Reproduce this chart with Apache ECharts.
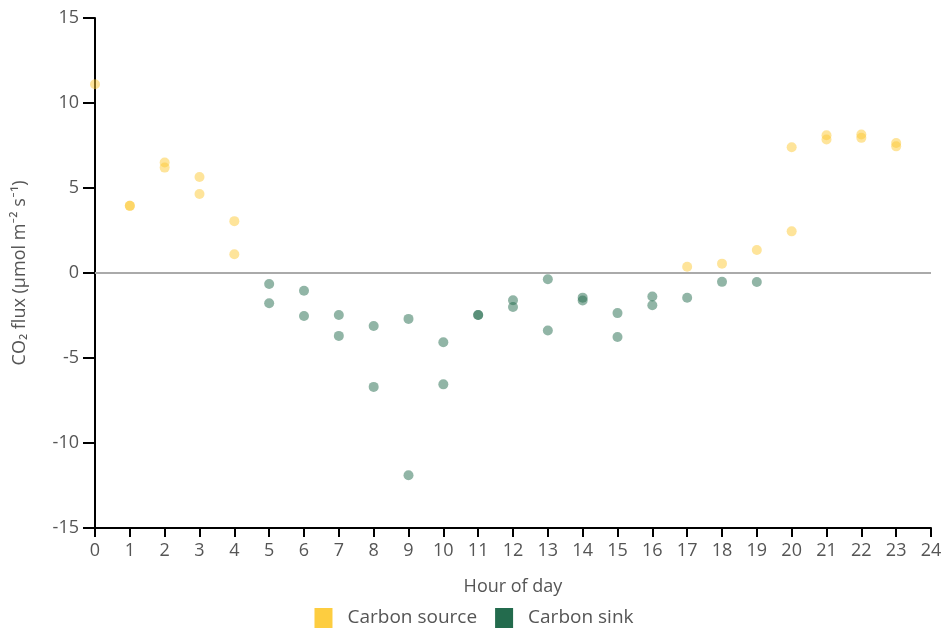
<!DOCTYPE html>
<html>
<head>
<meta charset="utf-8">
<script src="https://cdn.jsdelivr.net/npm/echarts@6/dist/echarts.min.js"></script>
<style>
  html, body { margin: 0; padding: 0; background: #fff; }
  #chart { width: 948px; height: 633px; }
</style>
</head>
<body>
<div id="chart"></div>
<script>
// hour of day, CO2 flux
var sourceHours = [0, 1, 1, 2, 2, 3, 3, 4, 4, 17, 18, 19, 20, 20, 21, 21, 22, 22, 23, 23];
var sourceFlux = [11.1, 3.95, 3.95, 6.5, 6.2, 5.65, 4.65, 3.05, 1.1, 0.37, 0.55, 1.35, 2.45, 7.4, 8.1, 7.85, 8.15, 7.95, 7.65, 7.45];

var sinkHours = [5, 5, 6, 6, 7, 7, 8, 8, 9, 9, 10, 10, 11, 11, 12, 12, 13, 13, 14, 14, 15, 15, 16, 16, 17, 18, 19];
var sinkFlux = [-0.65, -1.78, -1.04, -2.53, -2.47, -3.7, -3.12, -6.7, -2.7, -11.9, -4.07, -6.55, -2.47, -2.47, -1.6, -2.0, -0.37, -3.38, -1.45, -1.62, -2.36, -3.76, -1.38, -1.9, -1.46, -0.52, -0.53];

var yTicks = [-15, -10, -5, 0, 5, 10, 15];

function pairs(xs, ys) {
    return xs.map(function (x, i) { return [x, ys[i]]; });
}

var chart = echarts.init(document.getElementById('chart'));

var font = '"Open Sans", Lato, sans-serif';
var textGrey = '#555';

var option = {
    animation: false,
    textStyle: { fontFamily: font },
    grid: { left: 95, right: 17, top: 18, bottom: 105 },
    legend: {
        bottom: 0,
        left: 'center',
        itemWidth: 18,
        itemHeight: 20,
        itemGap: 18,
        icon: 'rect',
        textStyle: { color: textGrey, fontSize: 19, fontFamily: font, padding: [0, 0, 0, 10] },
        data: [
            { name: 'Carbon source', itemStyle: { color: '#fdcd40', opacity: 1 } },
            { name: 'Carbon sink', itemStyle: { color: '#236b4d', opacity: 1 } }
        ]
    },
    xAxis: {
        type: 'value',
        min: 0,
        max: 24,
        interval: 1,
        name: 'Hour of day',
        nameLocation: 'middle',
        nameGap: 50,
        nameTextStyle: { color: textGrey, fontSize: 18, fontFamily: font },
        axisLine: { onZero: false, lineStyle: { color: '#000', width: 2 } },
        axisTick: { show: true, length: 9, lineStyle: { color: '#000', width: 2 } },
        axisLabel: { color: textGrey, fontSize: 18, margin: 14, fontFamily: font },
        splitLine: { show: false }
    },
    yAxis: {
        type: 'value',
        min: yTicks[0],
        max: yTicks[yTicks.length - 1],
        interval: 5,
        name: 'CO\u2082 flux (\u00b5mol m\u207b\u00b2 s\u207b\u00b9)',
        nameLocation: 'middle',
        nameGap: 66,
        nameTextStyle: { color: textGrey, fontSize: 18, fontFamily: font },
        axisLine: { show: true, lineStyle: { color: '#000', width: 2 } },
        axisTick: { show: true, length: 12, lineStyle: { color: '#000', width: 2 } },
        axisLabel: { color: textGrey, fontSize: 18, margin: 16, fontFamily: font },
        splitLine: { show: false }
    },
    series: [
        {
            name: 'Carbon source',
            type: 'scatter',
            symbolSize: 10,
            clip: false,
            itemStyle: { color: '#fdc935', opacity: 0.5 },
            data: pairs(sourceHours, sourceFlux),
            markLine: {
                silent: true,
                symbol: 'none',
                label: { show: false },
                lineStyle: { color: '#aaa', width: 2, type: 'solid' },
                data: [{ yAxis: 0 }]
            },
            z: 3
        },
        {
            name: 'Carbon sink',
            type: 'scatter',
            symbolSize: 10,
            clip: false,
            itemStyle: { color: '#236b4d', opacity: 0.5 },
            data: pairs(sinkHours, sinkFlux),
            z: 3
        }
    ]
};

chart.setOption(option);

window.onresize = function () {
    chart.resize();
};
</script>
</body>
</html>
